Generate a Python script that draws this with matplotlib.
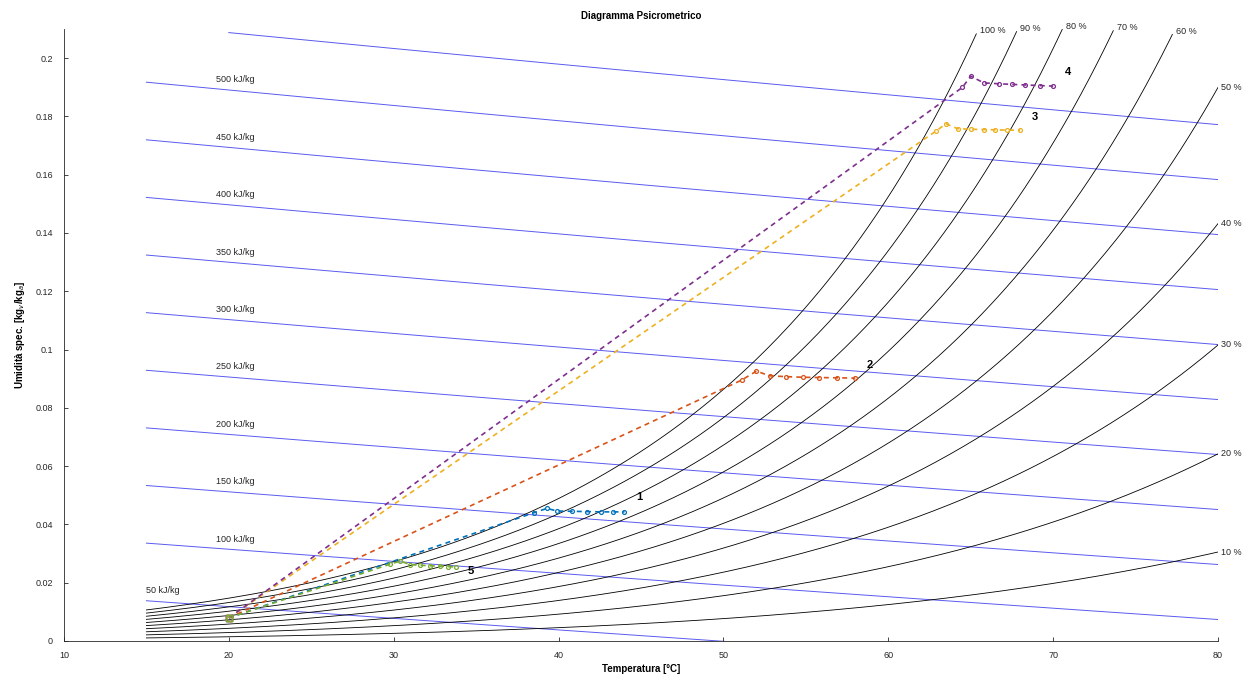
"""
Diagramma psicrometrico con 5 trasformazioni.
"""

import numpy as np
import matplotlib
matplotlib.use('Agg')
import matplotlib.pyplot as plt

P_ATM = 101.325  # kPa

# curve di umidita relativa e linee isoentalpiche
rh_levels = [10, 20, 30, 40, 50, 60, 70, 80, 90, 100]
h_levels = [50, 100, 150, 200, 250, 300, 350, 400, 450, 500, 550]
h_labelled = [50, 100, 150, 200, 250, 300, 350, 400, 450, 500]

# trasformazioni (T [°C], x [kg_v/kg_a])
p1_T = [20.0, 38.5, 39.3, 39.9, 40.8, 41.7, 42.6, 43.3, 44.0]
p1_w = [0.0079, 0.0440, 0.0455, 0.0446, 0.0445, 0.0444, 0.0443, 0.0443, 0.0443]
p2_T = [20.0, 51.1, 52.0, 52.8, 53.8, 54.8, 55.8, 56.9, 58.0]
p2_w = [0.0079, 0.0895, 0.0926, 0.0910, 0.0907, 0.0905, 0.0904, 0.0903, 0.0902]
p3_T = [20.0, 62.9, 63.5, 64.2, 65.0, 65.8, 66.5, 67.2, 68.0]
p3_w = [0.0079, 0.1750, 0.1775, 0.1758, 0.1756, 0.1755, 0.1754, 0.1753, 0.1753]
p4_T = [20.0, 64.5, 65.0, 65.8, 66.7, 67.5, 68.3, 69.2, 70.0]
p4_w = [0.0079, 0.1900, 0.1938, 0.1915, 0.1912, 0.1910, 0.1908, 0.1906, 0.1904]
p5_T = [20.0, 29.8, 30.4, 31.0, 31.6, 32.2, 32.8, 33.3, 33.8]
p5_w = [0.0079, 0.0264, 0.0274, 0.0262, 0.0260, 0.0258, 0.0257, 0.0255, 0.0254]
proc_names = ['1', '2', '3', '4', '5']
proc_label_dw = [0.0050, 0.0045, 0.0045, 0.0050, -0.0014]

CLR_PROC = ['#0072BD', '#D95319', '#EDB120', '#7E2F8E', '#77AC30']
CLR_H = '#5a5af0'
CLR_AX = '#262626'

W_MAX = 0.21


def p_sat(T):
    # Buck, kPa
    return 0.61121 * np.exp((18.678 - T / 234.5) * (T / (257.14 + T)))


def w_rh(T, rh):
    pv = rh / 100.0 * p_sat(T)
    return 0.622 * pv / (P_ATM - pv)


def w_h(T, h):
    return (h - 1.006 * T) / (2501.0 + 1.86 * T)


plt.rcParams.update({
    'font.family': ['Liberation Sans', 'DejaVu Sans'],
    'font.size': 7,
})

fig = plt.figure(figsize=(12.54, 6.84), dpi=100)
ax = fig.add_axes([0.051, 0.0629, 0.9203, 0.8947])

# curve UR
T = np.linspace(15, 80, 400)
for rh in rh_levels:
    w = w_rh(T, rh)
    m = w <= W_MAX
    ax.plot(T[m], w[m], color='k', lw=0.6, zorder=2)
    top = w[m][-1] > W_MAX - 0.002
    ax.text(T[m][-1] + 0.2, w[m][-1] + (0.001 if top else 0.0), f'{rh} %',
            ha='left', va='center', fontsize=6.5, color=CLR_AX, clip_on=False)

# isoentalpiche
for h in h_levels:
    Th = np.linspace(20 if h == 550 else 15, 80, 200)
    w = w_h(Th, h)
    ax.plot(Th, w, color=CLR_H, lw=0.7, zorder=1)
    if h in h_labelled:
        tx = 15.0 if h == 50 else 19.2
        ax.text(tx, w_h(20.0 if h != 50 else 15.0, h) + 0.0035, f'{h} kJ/kg',
                ha='left', va='center', fontsize=6.5, color=CLR_AX)

# trasformazioni
procs = [(p1_T, p1_w), (p2_T, p2_w), (p3_T, p3_w), (p4_T, p4_w), (p5_T, p5_w)]
for k in [0, 1, 2, 3, 4]:
    Tp, wp = procs[k]
    c = CLR_PROC[k]
    ax.plot(Tp, wp, '--', color=c, lw=1.2, dashes=(3, 2.5), zorder=4)
    ax.plot(Tp[1:], wp[1:], linestyle='none', marker='o', ms=2.8,
            mfc='none', mec=c, mew=0.9, zorder=5)
    ax.plot(Tp[0], wp[0], marker='s', ms=4, mfc='none', mec=c, mew=1.0, zorder=5)
    ax.text(Tp[-1] + 0.7, wp[-1] + proc_label_dw[k], proc_names[k],
            ha='left', va='center', fontsize=8, fontweight='bold', color='k', zorder=6)

ax.set_xlim(10, 80)
ax.set_ylim(0, W_MAX)
ax.set_xticks(np.arange(10, 81, 10))
ax.set_yticks(np.arange(0, 0.201, 0.02))
ax.set_yticklabels(['0'] + [f'{v:g}' for v in np.arange(0.02, 0.201, 0.02).round(2)])
for s in ['top', 'right']:
    ax.spines[s].set_visible(False)
for s in ['left', 'bottom']:
    ax.spines[s].set_color(CLR_AX)
    ax.spines[s].set_linewidth(0.6)
ax.tick_params(direction='in', length=3, width=0.6, colors=CLR_AX, labelsize=6.5)
ax.tick_params(axis='x', pad=7)
ax.tick_params(axis='y', pad=8)

ax.set_title('Diagramma Psicrometrico', fontsize=7, fontweight='bold', pad=7)
ax.set_xlabel('Temperatura [°C]', fontsize=7, fontweight='bold', labelpad=3)
ax.set_ylabel('Umidità spec. [kg$_v$/kg$_a$]', fontsize=7, fontweight='bold', labelpad=6)

fig.savefig('out.png', dpi=100, facecolor='white')
plt.close(fig)
